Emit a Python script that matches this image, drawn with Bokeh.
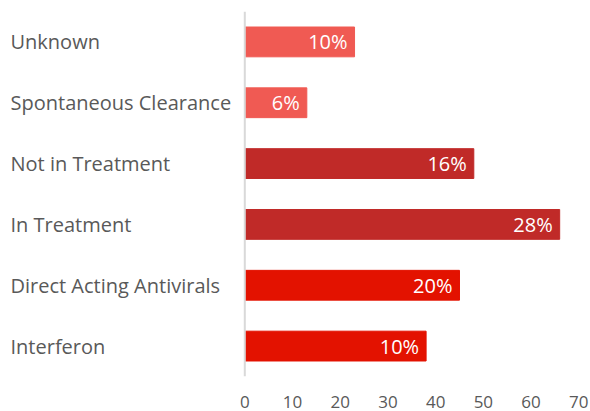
from bokeh.plotting import figure
from bokeh.models import ColumnDataSource, FactorRange, Range1d, FixedTicker, Span
from bokeh.core.properties import value
from bokeh.embed import file_html
from bokeh.resources import INLINE

# Data (bottom to top)
categories = ["Interferon", "Direct Acting Antivirals", "In Treatment",
              "Not in Treatment", "Spontaneous Clearance", "Unknown"]
values = [38, 45, 66, 48, 13, 23]
pct_labels = ["10%", "20%", "28%", "16%", "6%", "10%"]
x_ticks = [0, 10, 20, 30, 40, 50, 60, 70]

# Styles
bar_colors = ["#E31200", "#E31200", "#C02A28", "#C02A28", "#F05A53", "#F05A53"]

W, H = 590, 411
px_per_unit = 4.771
zero_px = 244.3
x_start = -zero_px / px_per_unit
x_end = (W - zero_px) / px_per_unit
label_x = x_start + 10 / px_per_unit

src = ColumnDataSource(dict(cat=categories, val=values, lab=pct_labels,
                            color=bar_colors,
                            lx=[label_x] * len(categories)))

p = figure(width=W, height=H, output_backend="svg", toolbar_location=None,
           y_range=FactorRange(factors=categories, range_padding=0),
           x_range=Range1d(x_start, x_end),
           min_border_left=0, min_border_right=0, min_border_top=11,
           min_border_bottom=35)

p.hbar(y="cat", right="val", left=0, height=0.49, color="color", source=src)

p.add_layout(Span(location=0, dimension="height", line_color="#d9d9d9",
                  line_width=2))

p.text(x="val", y="cat", text="lab", source=src, text_align="right",
       text_baseline="middle", x_offset=-7, text_color="white",
       text_font=value("Open Sans"), text_font_size="20px")

p.text(x="lx", y="cat", text="cat", source=src, text_align="left",
       text_baseline="middle", text_color="#595959",
       text_font=value("Open Sans"), text_font_size="20px")

p.yaxis.visible = False
p.xgrid.visible = False
p.ygrid.visible = False
p.outline_line_color = None
p.xaxis.ticker = FixedTicker(ticks=x_ticks)
p.xaxis.axis_line_color = None
p.xaxis.major_tick_line_color = None
p.xaxis.minor_tick_line_color = None
p.xaxis.major_label_text_font = "Open Sans"
p.xaxis.major_label_text_font_size = "17px"
p.xaxis.major_label_text_color = "#595959"
p.xaxis.major_label_standoff = 13

open("out.html", "w").write(file_html(p, INLINE))
